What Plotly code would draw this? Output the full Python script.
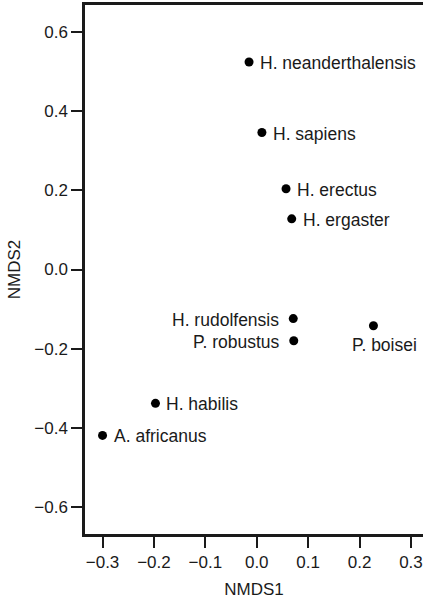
import plotly.graph_objects as go

# NMDS ordination scores for each taxon
taxa = [
    "H. neanderthalensis", "H. sapiens", "H. erectus", "H. ergaster",
    "H. rudolfensis", "P. robustus", "P. boisei", "H. habilis", "A. africanus",
]
nmds1 = [-0.015, 0.010, 0.057, 0.068, 0.071, 0.072, 0.227, -0.197, -0.300]
nmds2 = [0.524, 0.346, 0.204, 0.128, -0.124, -0.180, -0.142, -0.338, -0.419]

# label placement per taxon: right, left or below the point
label_side = ["right", "right", "right", "right", "left", "left", "below", "right", "right"]

FONT = "Liberation Sans, Arial, Helvetica, sans-serif"
INK = "#1a1a1a"

fig = go.Figure()
fig.add_trace(go.Scatter(
    x=nmds1, y=nmds2, mode="markers",
    marker=dict(size=9, color="black"),
    hoverinfo="text", text=taxa, showlegend=False,
))

for name, xv, yv, side in zip(taxa, nmds1, nmds2, label_side):
    if side == "right":
        kw = dict(xanchor="left", yanchor="middle", xshift=9, yshift=-1)
    elif side == "left":
        kw = dict(xanchor="right", yanchor="middle", xshift=-12, yshift=-1)
    else:
        kw = dict(xanchor="center", yanchor="top", xshift=11, yshift=-7)
    fig.add_annotation(
        x=xv, y=yv, text=name, showarrow=False,
        font=dict(family=FONT, size=17.5, color=INK), **kw,
    )

axis_common = dict(
    showgrid=False, zeroline=False,
    showline=True, linecolor=INK, linewidth=2.5,
    ticks="outside", ticklen=11, tickwidth=2, tickcolor=INK,
    tickfont=dict(family=FONT, size=17, color=INK),
    tickformat=".1f",
)

fig.update_xaxes(
    range=[-0.3341, 0.3234], tickvals=[-0.3, -0.2, -0.1, 0.0, 0.1, 0.2, 0.3],
    mirror=True,
    title=dict(text="NMDS1", font=dict(family=FONT, size=17, color=INK), standoff=14),
    **axis_common,
)
fig.update_yaxes(
    range=[-0.668, 0.668], tickvals=[-0.6, -0.4, -0.2, 0.0, 0.2, 0.4, 0.6],
    title=dict(text="NMDS2", font=dict(family=FONT, size=17, color=INK), standoff=10),
    **axis_common,
)

fig.update_layout(
    width=423, height=599,
    margin=dict(l=85, r=0, t=5, b=65),
    paper_bgcolor="white", plot_bgcolor="white",
)

fig.write_html("out.html")
